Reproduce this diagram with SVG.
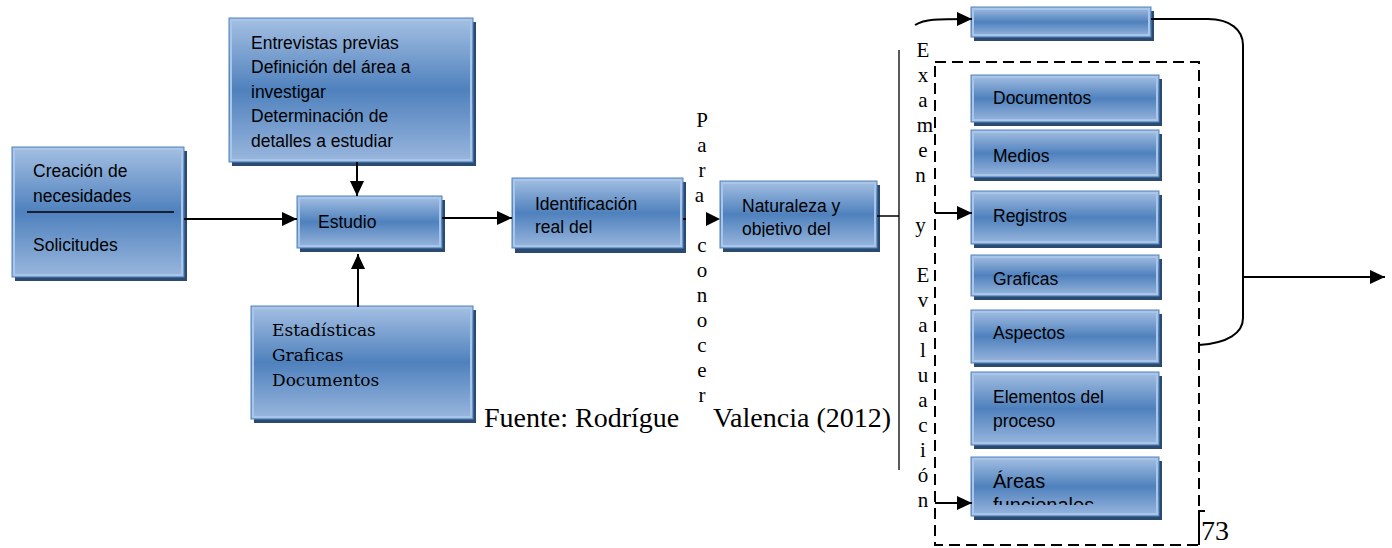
<svg xmlns="http://www.w3.org/2000/svg" width="1392" height="548" viewBox="0 0 1392 548">
<style>
.sh{fill:#2a4a70}
.bd{fill:url(#g);stroke:#4f81bd;stroke-width:1}
.hl{fill:none;stroke:#a9c5e8;stroke-width:2}
.t{font-family:"Liberation Sans",Arial,sans-serif;font-size:17.5px;fill:#000}
.ts{font-family:"DejaVu Serif",serif;font-size:17px;fill:#000}
.v{font-family:"Liberation Serif","Times New Roman",serif;font-size:21px;fill:#000;text-anchor:middle}
.f{font-family:"Liberation Serif","Times New Roman",serif;font-size:28px;fill:#000}
.ln{fill:none;stroke:#000;stroke-width:2}
.ar{fill:none;stroke:#000;stroke-width:2;marker-end:url(#ah)}
</style>
<defs>
<linearGradient id="g" x1="0" y1="0" x2="0" y2="1">
<stop offset="0" stop-color="#a5c0e3"/>
<stop offset="0.5" stop-color="#4f81bd"/>
<stop offset="1" stop-color="#9ab7de"/>
</linearGradient>
<marker id="ah" markerUnits="userSpaceOnUse" markerWidth="15" markerHeight="14" refX="15" refY="7" orient="auto">
<path d="M0,0 L15,7 L0,14 z" fill="#000"/>
</marker>
<clipPath id="cNat"><rect x="720" y="181" width="157" height="56"/></clipPath>
<clipPath id="cGra"><rect x="971" y="255" width="188" height="30"/></clipPath>
<clipPath id="cAre"><rect x="971" y="457" width="188" height="48"/></clipPath>
</defs>
<rect width="1392" height="548" fill="#fff"/>

<g id="n-entrevistas">
<rect class="sh" x="232" y="22" width="244" height="144"/>
<rect class="bd" x="229" y="18" width="244" height="144"/>
<rect class="hl" x="231" y="20" width="240" height="140"/>
<text class="t" x="251" y="49">Entrevistas previas</text>
<text class="t" x="251" y="73">Definición del área a</text>
<text class="t" x="251" y="98">investigar</text>
<text class="t" x="251" y="122">Determinación de</text>
<text class="t" x="251" y="147">detalles a estudiar</text>
</g>

<g id="n-creacion">
<rect class="sh" x="15" y="151" width="172" height="130"/>
<rect class="bd" x="12" y="147" width="172" height="130"/>
<rect class="hl" x="14" y="149" width="168" height="126"/>
<text class="t" x="33" y="177">Creación de</text>
<text class="t" x="33" y="202">necesidades</text>
<line x1="27" y1="212" x2="174" y2="212" stroke="#000" stroke-width="1.5"/>
<text class="t" x="33" y="251">Solicitudes</text>
</g>

<g id="n-estudio">
<rect class="sh" x="300" y="200" width="145" height="52"/>
<rect class="bd" x="297" y="196" width="145" height="52"/>
<rect class="hl" x="299" y="198" width="141" height="48"/>
<text class="t" x="318" y="228">Estudio</text>
</g>

<g id="n-estadisticas">
<rect class="sh" x="254" y="310" width="222" height="113"/>
<rect class="bd" x="251" y="306" width="222" height="113"/>
<rect class="hl" x="253" y="308" width="218" height="109"/>
<text class="ts" x="272" y="336">Estadísticas</text>
<text class="ts" x="272" y="361">Graficas</text>
<text class="ts" x="272" y="386">Documentos</text>
</g>

<g id="n-identificacion">
<rect class="sh" x="515" y="182" width="171" height="71"/>
<rect class="bd" x="512" y="178" width="171" height="70"/>
<rect class="hl" x="514" y="180" width="167" height="66"/>
<text class="t" x="535" y="210">Identificación</text>
<text class="t" x="535" y="233">real del</text>
</g>

<g id="n-naturaleza">
<rect class="sh" x="723" y="185" width="157" height="67"/>
<rect class="bd" x="720" y="181" width="157" height="67"/>
<rect class="hl" x="722" y="183" width="153" height="63"/>
<g clip-path="url(#cNat)">
<text class="t" x="742" y="212">Naturaleza y</text>
<text class="t" x="742" y="235">objetivo del</text>
</g>
</g>

<g id="n-medios-top">
<rect class="sh" x="974" y="11" width="180" height="30"/>
<rect class="bd" x="971" y="7" width="180" height="30"/>
<rect class="hl" x="973" y="9" width="176" height="26"/>
</g>

<g id="n-documentos">
<rect class="sh" x="974" y="79" width="188" height="47"/>
<rect class="bd" x="971" y="75" width="188" height="47"/>
<rect class="hl" x="973" y="77" width="184" height="43"/>
<text class="t" x="993" y="104">Documentos</text>
</g>

<g id="n-medios">
<rect class="sh" x="974" y="134" width="188" height="47"/>
<rect class="bd" x="971" y="130" width="188" height="47"/>
<rect class="hl" x="973" y="132" width="184" height="43"/>
<text class="t" x="993" y="162">Medios</text>
</g>

<g id="n-registros">
<rect class="sh" x="974" y="195" width="188" height="53"/>
<rect class="bd" x="971" y="191" width="188" height="53"/>
<rect class="hl" x="973" y="193" width="184" height="49"/>
<text class="t" x="993" y="222">Registros</text>
</g>

<g id="n-graficas">
<rect class="sh" x="974" y="259" width="188" height="41"/>
<rect class="bd" x="971" y="255" width="188" height="41"/>
<rect class="hl" x="973" y="257" width="184" height="37"/>
<g clip-path="url(#cGra)"><text class="t" x="993" y="285">Graficas</text></g>
</g>

<g id="n-aspectos">
<rect class="sh" x="974" y="314" width="188" height="53"/>
<rect class="bd" x="971" y="310" width="188" height="53"/>
<rect class="hl" x="973" y="312" width="184" height="49"/>
<text class="t" x="993" y="339">Aspectos</text>
</g>

<g id="n-elementos">
<rect class="sh" x="974" y="376" width="188" height="73"/>
<rect class="bd" x="971" y="372" width="188" height="73"/>
<rect class="hl" x="973" y="374" width="184" height="69"/>
<text class="t" x="993" y="403">Elementos del</text>
<text class="t" x="993" y="427">proceso</text>
</g>

<g id="n-areas">
<rect class="sh" x="974" y="461" width="188" height="59"/>
<rect class="bd" x="971" y="457" width="188" height="59"/>
<rect class="hl" x="973" y="459" width="184" height="55"/>
<g clip-path="url(#cAre)">
<text class="t" x="993" y="488" style="font-size:20px">Áreas</text>
<text class="t" x="993" y="512" style="font-size:20px">funcionales</text>
</g>
</g>

<g id="group-box">
<rect x="935" y="62" width="264" height="483" fill="none" stroke="#000" stroke-width="2" stroke-dasharray="11 6"/>
</g>

<g id="labels">
<text class="v">
<tspan x="702" y="127">P</tspan><tspan x="702" y="152">a</tspan><tspan x="702" y="177">r</tspan><tspan x="702" y="202">a</tspan>
<tspan x="702" y="252">c</tspan><tspan x="702" y="277">o</tspan><tspan x="702" y="302">n</tspan><tspan x="702" y="327">o</tspan><tspan x="702" y="352">c</tspan><tspan x="702" y="377">e</tspan><tspan x="702" y="402">r</tspan>
</text>
<text class="v">
<tspan x="923" y="57">E</tspan><tspan x="923" y="82">x</tspan><tspan x="923" y="107">a</tspan><tspan x="925" y="132">m</tspan><tspan x="923" y="157">e</tspan><tspan x="923" y="182">n</tspan>
<tspan x="923" y="232">y</tspan>
<tspan x="923" y="282">E</tspan><tspan x="923" y="307">v</tspan><tspan x="923" y="332">a</tspan><tspan x="923" y="357">l</tspan><tspan x="923" y="382">u</tspan><tspan x="923" y="407">a</tspan><tspan x="923" y="432">c</tspan><tspan x="923" y="457">i</tspan><tspan x="923" y="482">ó</tspan><tspan x="923" y="507">n</tspan>
</text>
<text class="f" y="427"><tspan x="484">Fuente: Rodrígue</tspan><tspan x="713">Valencia (2012)</tspan></text>
<text class="f" x="1201" y="540">73</text>
</g>

<g id="connectors">
<line class="ar" x1="184" y1="219" x2="297" y2="219"/>
<line class="ar" x1="357" y1="162" x2="357" y2="196"/>
<line class="ar" x1="358" y1="307" x2="358" y2="254"/>
<line class="ar" x1="442" y1="218" x2="512" y2="218"/>
<line class="ln" x1="683" y1="219" x2="686" y2="219"/>
<path d="M706,212 L720,219 L706,226 z" fill="#000"/>
<line x1="877" y1="216" x2="899" y2="216" stroke="#000" stroke-width="1.5"/>
<line x1="899" y1="50" x2="899" y2="470" stroke="#000" stroke-width="1.3"/>
<path class="ar" d="M915,25 C925,19 935,19 972,19"/>
<line class="ar" x1="935" y1="213" x2="972" y2="213"/>
<line class="ar" x1="935" y1="503" x2="972" y2="503"/>
<path class="ln" d="M1151,19 L1208,19 C1230,19 1243,30 1243,45 L1243,318 C1243,333 1228,343 1199,345"/>
<line class="ar" x1="1243" y1="277" x2="1385" y2="277"/>
<path class="ln" d="M1199,545 L1199,511 L1205,511" stroke-width="1.5"/>
</g>
</svg>
